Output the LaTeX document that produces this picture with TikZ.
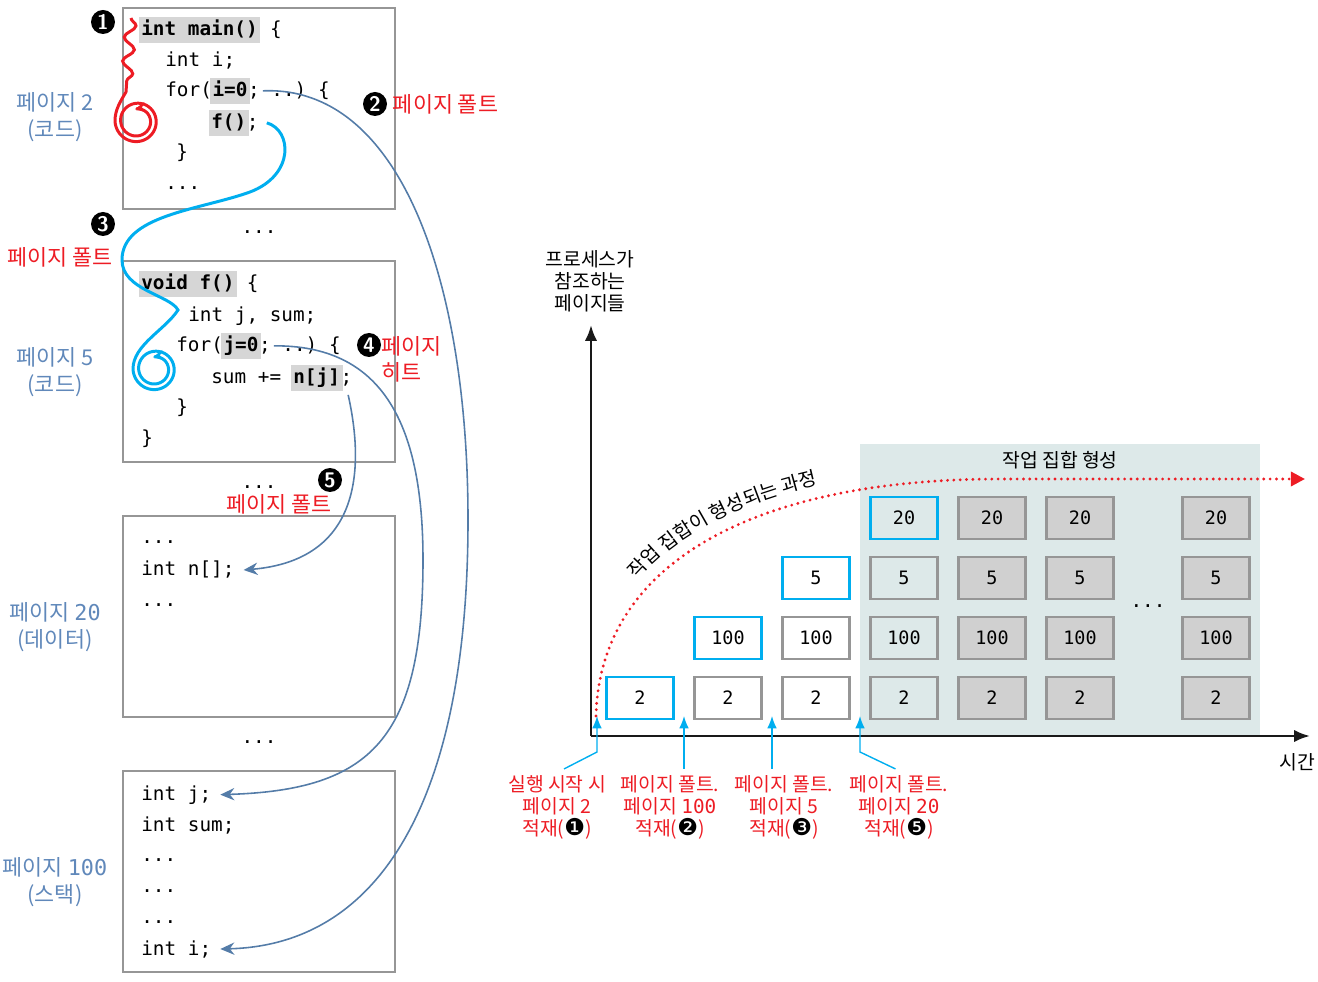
\documentclass[tikz,border=0pt]{standalone}
\usepackage{fontspec}
\setmainfont{Noto Sans CJK KR}
\setmonofont{DejaVu Sans Mono}
\newfontfamily\dingfont[Scale=1.2]{DejaVu Sans}
\usepackage{tikz}
\usetikzlibrary{arrows.meta,positioning}
\usetikzlibrary{decorations.pathmorphing,decorations.text}
\tikzset{>=latex}

\definecolor{faultred}{RGB}{237,28,36}
\definecolor{runblue}{RGB}{0,174,239}
\definecolor{refblue}{RGB}{84,124,168}
\definecolor{lblblue}{RGB}{96,136,186}
\definecolor{boxgray}{RGB}{150,150,150}
\definecolor{hlgray}{RGB}{214,214,214}
\definecolor{resgray}{RGB}{208,208,208}
\definecolor{wsbg}{RGB}{221,233,233}

\newcommand\codefont{\ttfamily\fontsize{11}{13}\selectfont}
\newcommand\lblfont{\fontsize{12.4}{15}\selectfont}
\newcommand\chartfont{\fontsize{11}{12.5}\selectfont}
\newcommand\evnum[1]{{\dingfont\color{black}#1}}

\tikzset{
  pagebox/.style={draw=boxgray,line width=1.1pt},
  code/.style={font=\codefont,anchor=base west,inner sep=0pt},
  hl/.style={code,font=\codefont\bfseries,fill=hlgray,inner xsep=1.5pt,
    text height=11pt,text depth=4pt,xshift=-1.5pt},
  after/.style={code,xshift=-1.5pt},
  dots/.style={font=\codefont,inner sep=0pt},
  pagelbl/.style={font=\lblfont,text=lblblue,align=center},
  fault/.style={font=\lblfont,text=faultred,inner sep=1pt},
  numc/.style={circle,fill=black,text=white,font=\sffamily\bfseries\large,
    inner sep=0pt,minimum size=0.48cm},
  ref/.style={draw=refblue,line width=0.9pt,-{Stealth[length=8pt,width=7pt]}},
  run/.style={line width=1.7pt,-{Stealth[length=6pt,width=6pt]}},
  axis/.style={line width=1.5pt,draw=black!90,-{Latex[length=9pt,width=7pt]}},
  pg/.style={draw=boxgray,line width=1.2pt,minimum width=1.34cm,minimum height=0.84cm,
    inner sep=0pt,font=\ttfamily\fontsize{10.5}{12}\selectfont},
  pgnew/.style={pg,draw=runblue},
  pgres/.style={pg,fill=resgray},
  wspath/.style={faultred,line width=1.8pt,dash pattern=on 0pt off 3.6pt,line cap=round,
    -{Triangle[length=8pt,width=8pt]}},
  evlbl/.style={font=\chartfont,text=faultred,align=center},
  evarrow/.style={draw=runblue,line width=0.8pt,-{Latex[length=7pt,width=5.5pt]}}
}

\begin{document}
\begin{tikzpicture}[x=0.02cm,y=-0.02cm]
\useasboundingbox (0,0) rectangle (1318,982);

% pages
\foreach \yy in {8,261,516,771}
  \draw[pagebox] (123,\yy) rectangle +(272,201);
\node[pagelbl] at (55,117) {페이지 2\\(코드)};
\node[pagelbl] at (55,372) {페이지 5\\(코드)};
\node[pagelbl] at (55,627) {페이지 \texttt{20}\\(데이터)};
\node[pagelbl] at (55,882) {페이지 \texttt{100}\\(스택)};
\foreach \yy in {232,487,742}
  \node[dots] at (259,\yy) {...};

% page 2
\node[hl] (main) at (141,36) {int main()};
\node[after] at (main.base east) {~\{};
\node[code] at (165,67) {int i;};
\node[code] (for1) at (165,97) {for(};
\node[hl] (i0) at (for1.base east) {i=0};
\node[after] at (i0.base east) {; ..)~\{};
\node[hl] (fcall) at (211,129) {f()};
\node[after] at (fcall.base east) {;};
\node[code] at (176,159) {\}};
\node[code] at (165,190) {...};

% page 5
\node[hl] (voidf) at (141,290) {void f()};
\node[after] at (voidf.base east) {~\{};
\node[code] at (188,322) {int j, sum;};
\node[code] (for2) at (176,352) {for(};
\node[hl] (j0) at (for2.base east) {j=0};
\node[after] at (j0.base east) {; ..)~\{};
\node[code] (sum) at (211,384) {sum +=};
\node[hl] (nj) at (293,384) {n[j]};
\node[after] at (nj.base east) {;};
\node[code] at (176,414) {\}};
\node[code] at (141,445) {\}};

% page 20
\node[code] at (141,544) {...};
\node[code] (narr) at (141,576) {int n[];};
\node[code] at (141,606) {...};

% page 100
\node[code] (jvar) at (141,800) {int j;};
\node[code] at (141,831) {int sum;};
\foreach \yy in {861,892,923}
  \node[code] at (141,\yy) {...};
\node[code] (ivar) at (141,955) {int i;};

% references
\draw[ref] ([xshift=7pt]i0.east) .. controls (400,85) and (468,280) .. (468,520)
  .. controls (468,800) and (380,945) .. ([xshift=5pt]ivar.east);
\draw[ref] ([xshift=7pt]j0.east) .. controls (380,345) and (423,420) .. (423,560)
  .. controls (423,740) and (370,790) .. ([xshift=5pt]jvar.east);
\draw[ref] ([xshift=3pt,yshift=-2pt]nj.south east) .. controls (365,470) and (360,560)
  .. ([xshift=5pt]narr.east);

% execution
\draw[run,faultred] (131,18)
  decorate[decoration={snake,segment length=0.48cm,amplitude=0.11cm}] {-- (126,92)}
  .. controls (120,102) and (115,110) .. (115,121)
  -- plot[domain=180:-460,samples=90] ({137+(22-(180-\x)/64)*cos(\x)},{121+(22-(180-\x)/64)*sin(\x)});
\draw[run,runblue] ([xshift=10pt]fcall.east) .. controls (292,130) and (295,175) .. (250,192)
  .. controls (200,210) and (122,215) .. (122,260)
  .. controls (122,290) and (170,295) .. (178,310)
  .. controls (165,330) and (133,345) .. (133,369)
  -- plot[domain=180:-460,samples=90] ({155+(22-(180-\x)/64)*cos(\x)},{369+(22-(180-\x)/64)*sin(\x)});

% markers
\node[numc] (n1) at (103,22) {1};
\node[numc] (n2) at (375,104) {2};
\node[numc] (n3) at (103,224) {3};
\node[numc] (n4) at (369,345) {4};
\node[numc] (n5) at (330,480) {5};
\node[fault,right=2pt of n2] {페이지 폴트};
\node[fault] at (60,257) {페이지 폴트};
\node[fault,align=left,anchor=north west,inner sep=0pt] at ([xshift=2pt]n4.north east) {페이지\\히트};
\node[fault] at (279,504) {페이지 폴트};

% chart
\fill[wsbg] (860,444) rectangle (1260,736);
\node[font=\chartfont] at (1060,460) {작업 집합 형성};
\coordinate (O) at (591,736);
\draw[axis] (O) -- (591,325);
\draw[axis] (O) -- (1310,736);
\node[font=\chartfont,align=center] at (590,281) {프로세스가\\참조하는\\페이지들};
\node[font=\chartfont] at (1297,762) {시간};

\node[pgnew] at (640,698) {2};
\node[pg] at (728,698) {2};
\node[pgnew] at (728,638) {100};
\node[pg] at (816,698) {2};
\node[pg] at (816,638) {100};
\node[pgnew] at (816,578) {5};
\node[pg] at (904,698) {2};
\node[pg] at (904,638) {100};
\node[pg] at (904,578) {5};
\node[pgnew] at (904,518) {20};
\foreach \xx in {992,1080,1216}
  \foreach \yy/\pnum in {698/2,638/100,578/5,518/20}
    \node[pgres] at (\xx,\yy) {\pnum};
\node[dots] at (1148,606) {...};

\draw[wspath] (596,716) .. controls (600,560) and (760,479) .. (1000,479) -- (1305,479);
\path[decorate,decoration={text along path,text align={left indent=2.75cm},
  text={|\chartfont|작업 집합이 형성되는 과정}}]
  (589,706) .. controls (593,548) and (753,467) .. (993,467);

% events
\coordinate (a1) at (597,716);
\coordinate (a2) at (684,716);
\coordinate (a3) at (772,716);
\coordinate (a4) at (860,716);
\node[evlbl] (e1) at (557,807) {실행 시작 시\\페이지 2\\적재(\evnum{❶})};
\node[evlbl] (e2) at (670,807) {페이지 폴트.\\페이지 \texttt{100}\\적재(\evnum{❷})};
\node[evlbl] (e3) at (784,807) {페이지 폴트.\\페이지 5\\적재(\evnum{❸})};
\node[evlbl] (e4) at (899,807) {페이지 폴트.\\페이지 \texttt{20}\\적재(\evnum{❺})};
\draw[evarrow] ([xshift=4pt]e1.north) -- (597,752) -- (a1);
\draw[evarrow] (e2.north -| a2) -- (a2);
\draw[evarrow] (e3.north -| a3) -- (a3);
\draw[evarrow] ([xshift=-2pt]e4.north) -- (860,752) -- (a4);
\end{tikzpicture}
\end{document}
